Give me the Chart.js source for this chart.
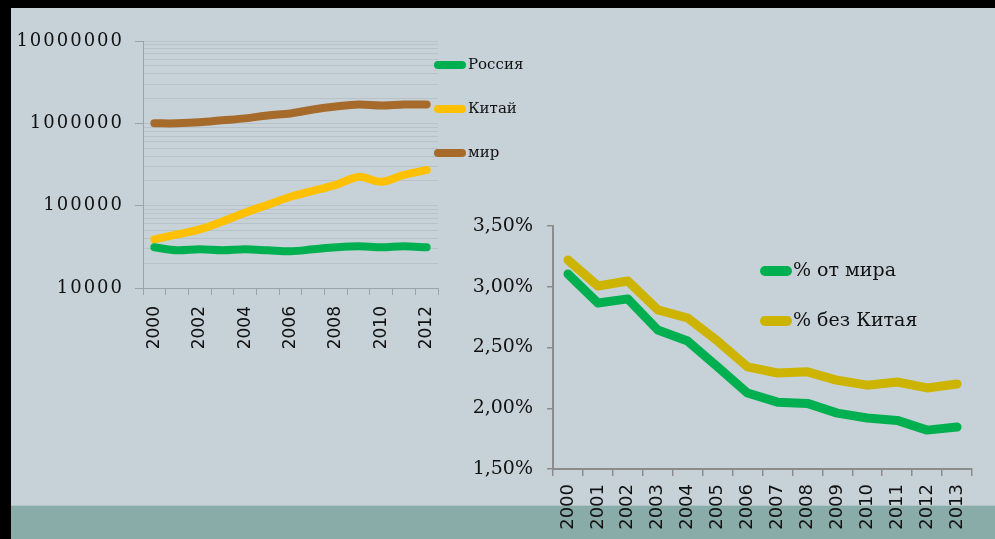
<!DOCTYPE html>
<html><head><meta charset="utf-8">
<script src="https://cdn.jsdelivr.net/npm/chart.js@4.4.1/dist/chart.umd.min.js"></script>
<style>
html,body{margin:0;padding:0;background:#000;width:995px;height:539px;overflow:hidden;position:relative}
#bg{position:absolute;left:11px;top:8px;width:984px;height:531px;background:#c7d2d8}
#band{position:absolute;left:11px;top:505px;width:984px;height:34px;background:#89aca9;border-top:1px solid #b3c5c7;box-sizing:border-box}
#c1{position:absolute;left:0;top:0}
#c2{position:absolute;left:440px;top:200px}
</style></head><body>
<div id="bg"></div><div id="band"></div>
<canvas id="c1" width="540" height="360"></canvas>
<canvas id="c2" width="555" height="339"></canvas>
<script>
// ---- Left chart data (log scale) ----
const years1 = ['2000','2001','2002','2003','2004','2005','2006','2007','2008','2009','2010','2011','2012'];
const russia = [31200, 28700, 29500, 28700, 29500, 28700, 27900, 29500, 31200, 32100, 31200, 32100, 31200];
const china  = [38900, 44700, 51400, 64200, 82300, 102800, 128400, 151600, 179000, 223600, 194600, 236200, 271400];
const world  = [1000000, 1000000, 1028000, 1087000, 1148000, 1248000, 1319000, 1474000, 1603000, 1694000, 1648000, 1694000, 1694000];
const logTicks = [10000,20000,30000,40000,50000,60000,70000,80000,90000,
                  100000,200000,300000,400000,500000,600000,700000,800000,900000,
                  1000000,2000000,3000000,4000000,5000000,6000000,7000000,8000000,9000000,10000000];
const labels1 = ['Россия', 'Китай', 'мир'];

// ---- Right chart data (percent) ----
const years2 = ['2000','2001','2002','2003','2004','2005','2006','2007','2008','2009','2010','2011','2012','2013'];
const shareWorld    = [3.105, 2.866, 2.90, 2.644, 2.553, 2.34, 2.125, 2.05, 2.04, 1.96, 1.92, 1.90, 1.82, 1.845];
const shareExChina  = [3.22, 3.006, 3.047, 2.81, 2.743, 2.553, 2.34, 2.29, 2.30, 2.23, 2.19, 2.216, 2.167, 2.20];
const pctTicks = [1.5, 2.0, 2.5, 3.0, 3.5];
const labels2 = ['% от мира', '% без Китая'];

const lineLegend = {
  id: 'lineLegend',
  afterDraw(chart, args, opts) {
    const ctx = chart.ctx;
    ctx.save();
    chart.data.datasets.forEach((ds, i) => {
      const y = opts.y + i * opts.gap;
      ctx.strokeStyle = ds.borderColor;
      ctx.lineWidth = opts.lineWidth;
      ctx.lineCap = 'round';
      ctx.beginPath();
      ctx.moveTo(opts.x, y);
      ctx.lineTo(opts.x + opts.len, y);
      ctx.stroke();
      ctx.fillStyle = opts.color;
      ctx.font = opts.font;
      ctx.textBaseline = 'middle';
      ctx.textAlign = 'left';
      ctx.fillText(ds.label, opts.textX, y);
    });
    ctx.restore();
  }
};

// widen tick label lettering of a scale (canvas letterSpacing)
function spaced(scale, px) {
  if (scale._spacedWrapped) return;
  scale._spacedWrapped = true;
  const orig = scale.drawLabels.bind(scale);
  scale.drawLabels = function (area) {
    const ctx = this.ctx;
    const prev = ctx.letterSpacing;
    ctx.letterSpacing = px;
    orig(area);
    ctx.letterSpacing = prev || '0px';
  };
}

const axisGray = '#9aa3a8';

new Chart(document.getElementById('c1'), {
  type: 'line',
  data: {
    labels: years1,
    datasets: [
      { label: labels1[0], data: russia, borderColor: '#00b050' },
      { label: labels1[1], data: china,  borderColor: '#ffc000' },
      { label: labels1[2], data: world,  borderColor: '#a66a2b' }
    ]
  },
  options: {
    responsive: false,
    animation: false,
    layout: { padding: { left: 0, top: 41, right: 102, bottom: 0 } },
    elements: {
      line: { borderWidth: 8, tension: 0.35, borderCapStyle: 'round', borderJoinStyle: 'round', fill: false },
      point: { radius: 0, hoverRadius: 0 }
    },
    plugins: {
      legend: { display: false },
      tooltip: { enabled: false },
      lineLegend: { x: 438, len: 24, textX: 468, y: 65, gap: 44, lineWidth: 8, font: '15px "DejaVu Serif"', color: '#111' }
    },
    scales: {
      x: {
        offset: true,
        grid: { offset: true, drawOnChartArea: false, tickLength: 7, color: axisGray, lineWidth: 1 },
        border: { display: true, color: axisGray, width: 1 },
        ticks: {
          autoSkip: false, minRotation: 90, maxRotation: 90, padding: 11,
          color: '#111', font: { family: '"DejaVu Sans"', size: 17 },
          callback: (v, i) => (i % 2 === 0 ? years1[i] : '')
        },
        afterFit: s => { s.height = 72; }
      },
      y: {
        type: 'logarithmic',
        min: 10000, max: 10000000,
        afterBuildTicks: s => { s.ticks = logTicks.map(v => ({ value: v })); },
        grid: {
          color: '#b8c3c9', lineWidth: 1, tickLength: 8,
          tickColor: c => (Number.isInteger(Math.log10(c.tick.value)) ? axisGray : 'rgba(0,0,0,0)')
        },
        border: { display: true, color: axisGray, width: 1 },
        ticks: {
          autoSkip: false, padding: 11, color: '#111',
          font: { family: '"DejaVu Serif"', size: 18 },
          callback: v => (Number.isInteger(Math.log10(v)) ? String(v) : '')
        },
        afterFit: s => { s.width = 143; spaced(s, '2px'); }
      }
    }
  },
  plugins: [lineLegend]
});

new Chart(document.getElementById('c2'), {
  type: 'line',
  data: {
    labels: years2,
    datasets: [
      { label: labels2[0], data: shareWorld,   borderColor: '#00b050' },
      { label: labels2[1], data: shareExChina, borderColor: '#ccb400' }
    ]
  },
  options: {
    responsive: false,
    animation: false,
    layout: { padding: { left: 0, top: 26, right: 23, bottom: 0 } },
    elements: {
      line: { borderWidth: 9, tension: 0, borderCapStyle: 'round', borderJoinStyle: 'round', fill: false },
      point: { radius: 0, hoverRadius: 0 }
    },
    plugins: {
      legend: { display: false },
      tooltip: { enabled: false },
      lineLegend: { x: 325, len: 22, textX: 353, y: 71, gap: 50, lineWidth: 10, font: '19px "DejaVu Serif"', color: '#111' }
    },
    scales: {
      x: {
        offset: true,
        grid: { offset: true, drawOnChartArea: false, tickLength: 7, color: '#8c8c8c', lineWidth: 1.5 },
        border: { display: true, color: '#8c8c8c', width: 2 },
        ticks: {
          autoSkip: false, minRotation: 90, maxRotation: 90, padding: 8,
          color: '#111', font: { family: '"DejaVu Sans"', size: 18 }
        },
        afterFit: s => { s.height = 70; }
      },
      y: {
        min: 1.5, max: 3.5,
        afterBuildTicks: s => { s.ticks = pctTicks.map(v => ({ value: v })); },
        grid: { drawOnChartArea: false, tickLength: 6, color: '#8c8c8c', lineWidth: 1.5 },
        border: { display: true, color: '#8c8c8c', width: 2 },
        ticks: {
          padding: 14, color: '#111',
          font: { family: '"DejaVu Serif"', size: 19 },
          callback: v => v.toFixed(2).replace('.', ',') + '%'
        },
        afterFit: s => { s.width = 113; }
      }
    }
  },
  plugins: [lineLegend]
});
</script>
</body></html>
